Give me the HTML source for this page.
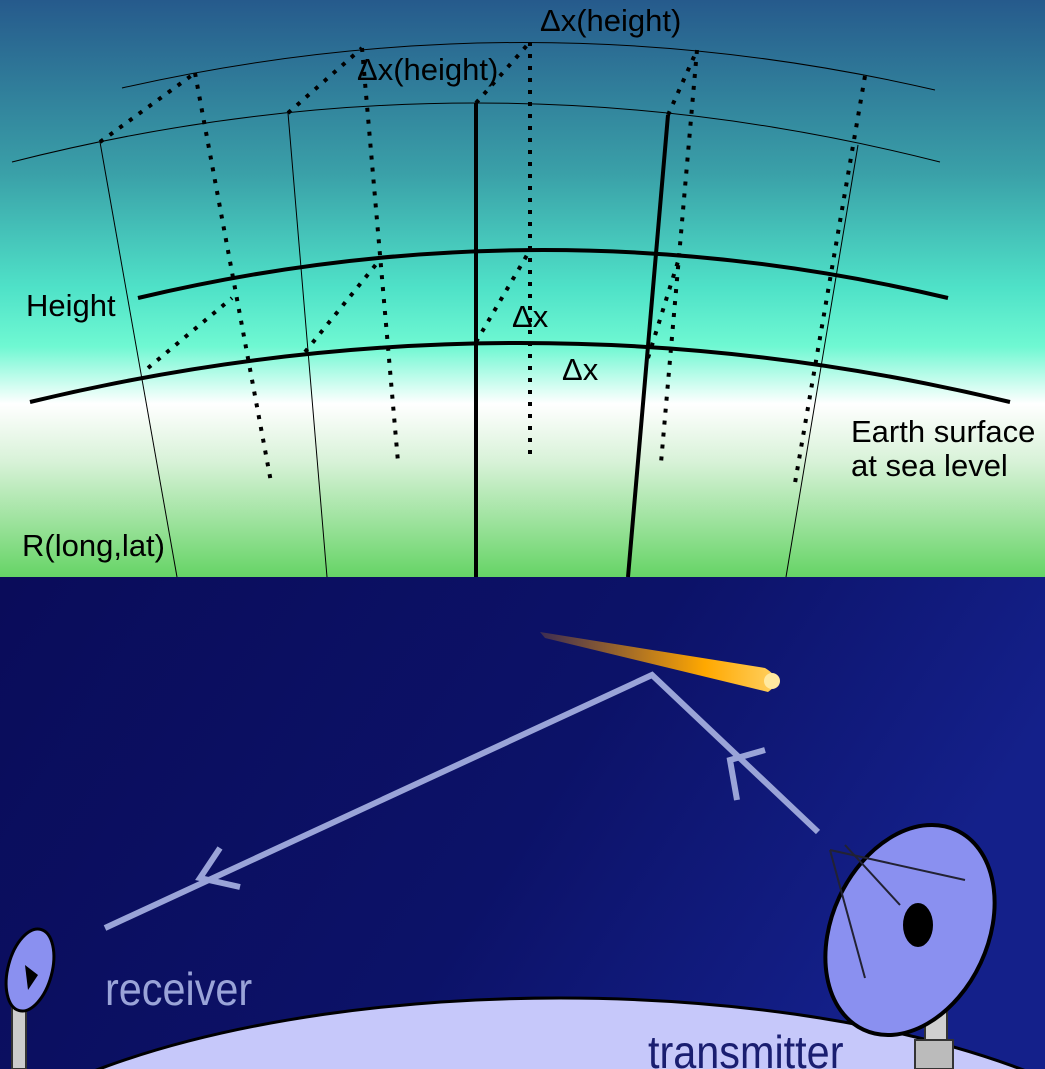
<!DOCTYPE html>
<html><head><meta charset="utf-8"><style>
html,body{margin:0;padding:0;width:1045px;height:1069px;overflow:hidden;background:#0b0e5e}
svg{display:block;overflow:hidden}
text{font-family:"Liberation Sans",sans-serif}
</style></head><body>
<svg width="1045" height="1069" viewBox="0 0 1045 1069" xmlns="http://www.w3.org/2000/svg">
<defs>
<linearGradient id="sky" x1="0" y1="0" x2="0" y2="1">
<stop offset="0" stop-color="#265a8c"/>
<stop offset="0.3" stop-color="#3aa0a8"/>
<stop offset="0.5" stop-color="#4fe2c8"/>
<stop offset="0.6" stop-color="#6ff8d2"/>
<stop offset="0.7" stop-color="#ffffff"/>
<stop offset="0.8" stop-color="#d8f2d8"/>
<stop offset="1" stop-color="#66d466"/>
</linearGradient>
<linearGradient id="night" x1="0" y1="0" x2="1" y2="0.3">
<stop offset="0" stop-color="#0a0c5a"/>
<stop offset="0.6" stop-color="#0c1268"/>
<stop offset="1" stop-color="#14208a"/>
</linearGradient>
<linearGradient id="meteor" x1="0" y1="0" x2="1" y2="0">
<stop offset="0" stop-color="#ff9a00" stop-opacity="0.2"/>
<stop offset="0.7" stop-color="#ffa800"/>
<stop offset="1" stop-color="#ffd060"/>
</linearGradient>
<clipPath id="c"><rect x="0" y="0" width="1045" height="1069"/></clipPath>
</defs>
<g clip-path="url(#c)">
<rect x="0" y="0" width="1045" height="577" fill="url(#sky)"/>
<rect x="0" y="577" width="1045" height="492" fill="url(#night)"/>

<g fill="none" stroke="#000">
<path d="M122,88 Q528,-4 935,90" stroke-width="1"/>
<path d="M12,162 Q476,44 940,162" stroke-width="1"/>
<path d="M138,298 Q543,202 948,298" stroke-width="4"/>
<path d="M30,402 Q520,284 1010,402" stroke-width="4"/>
<line x1="100" y1="142" x2="177" y2="577" stroke-width="1"/>
<line x1="288" y1="113" x2="327" y2="577" stroke-width="1"/>
<line x1="858" y1="145" x2="786" y2="577" stroke-width="1"/>
<line x1="476" y1="103" x2="476" y2="577" stroke-width="4"/>
<line x1="668" y1="115" x2="628" y2="577" stroke-width="4"/>
<g stroke-width="4" stroke-dasharray="4,8">
<line x1="195" y1="73" x2="271" y2="482"/>
<line x1="362" y1="48" x2="398" y2="462"/>
<line x1="530" y1="42" x2="530" y2="457"/>
<line x1="697" y1="50" x2="661" y2="463"/>
<line x1="865" y1="76" x2="795" y2="483"/>
<line x1="100" y1="142" x2="195" y2="73"/>
<line x1="288" y1="113" x2="362" y2="48"/>
<line x1="476" y1="103" x2="530" y2="42"/>
<line x1="668" y1="115" x2="697" y2="50"/>
<line x1="148" y1="368" x2="232" y2="298"/>
<line x1="305" y1="352" x2="378" y2="262"/>
<line x1="476" y1="342" x2="530" y2="250"/>
<line x1="648" y1="358" x2="680" y2="255"/>
</g>
</g>
<g font-size="31" fill="#000">
<text x="540" y="31">Δx(height)</text>
<text x="357" y="80">Δx(height)</text>
<text x="26" y="316">Height</text>
<text x="512" y="327">Δx</text>
<text x="562" y="380">Δx</text>
<text x="851" y="442">Earth surface</text>
<text x="851" y="476">at sea level</text>
<text x="22" y="556">R(long,lat)</text>
</g>

<!-- bottom -->
<ellipse cx="560" cy="1230" rx="640" ry="232" fill="#c6c8fa" stroke="#000" stroke-width="3"/>
<g stroke="#9aa4d8" stroke-width="6" fill="none" stroke-linecap="butt">
<polyline points="105,928 652,675 818,832"/>
<polyline points="220,848 200,878 240,887"/>
<polyline points="765,750 730,760 737,800"/>
</g>
<path d="M540,632 L765,668 Q785,680 768,692 L545,638 Z" fill="url(#meteor)"/>
<circle cx="772" cy="681" r="8" fill="#ffe9a0"/>

<!-- transmitter -->
<rect x="925" y="960" width="22" height="85" fill="#d0d0d0" stroke="#333" stroke-width="2"/>
<rect x="915" y="1040" width="38" height="29" fill="#bbb" stroke="#333" stroke-width="2"/>
<ellipse cx="910" cy="930" rx="78" ry="110" transform="rotate(25 910 930)" fill="#8a90f0" stroke="#000" stroke-width="4"/>
<ellipse cx="918" cy="925" rx="15" ry="22" fill="#000"/>
<g stroke="#223" stroke-width="2"><line x1="830" y1="850" x2="865" y2="978"/><line x1="830" y1="850" x2="965" y2="880"/><line x1="845" y1="845" x2="900" y2="905"/></g>
<text x="648" y="1068" font-size="46" fill="#1a1e70" style="transform:scale(0.9,1);transform-origin:648px 1068px">transmitter</text>

<!-- receiver -->
<rect x="12" y="1000" width="14" height="69" fill="#ccc" stroke="#333" stroke-width="2"/>
<ellipse cx="30" cy="970" rx="22" ry="42" transform="rotate(15 30 970)" fill="#8a90f0" stroke="#000" stroke-width="3"/>
<path d="M25,965 L38,975 L28,990 Z" fill="#000"/>
<text x="105" y="1005" font-size="46" fill="#9aa4d8" style="transform:scale(0.9,1);transform-origin:105px 1005px">receiver</text>
</g>
</svg>
</body></html>
